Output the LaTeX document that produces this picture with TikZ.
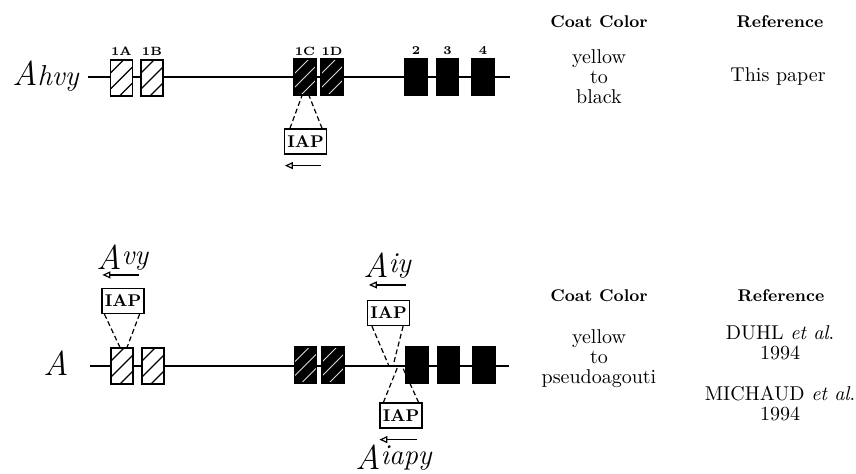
\documentclass[tikz,border=0pt]{standalone}
\usetikzlibrary{arrows.meta}

\tikzset {
  gene line/.style = {line width=0.7pt},
  exon box/.style = {
    draw,
    line width=0.6pt,
    minimum width=11pt,
    minimum height=18pt,
    inner sep=0pt
  },
  light exon/.style = {
    exon box,
    fill=white,
    path picture={
      \foreach \k in {-24,-16,...,24}
        \draw[line width=0.6pt, black]
          ([xshift=\k pt-14pt, yshift=-14pt]path picture bounding box.center) -- ++(28pt,28pt);
    }
  },
  dark exon/.style = {
    exon box,
    fill=black,
    path picture={
      \foreach \k in {-21,-14,...,21}
        \draw[line width=0.45pt, white!85!black]
          ([xshift=\k pt-14pt, yshift=-14pt]path picture bounding box.center) -- ++(28pt,28pt);
    }
  },
  coding exon/.style = {exon box, fill=black},
  exon label/.style = {font=\fontsize{6}{6}\selectfont\bfseries, inner sep=0pt},
  iap box/.style = {
    draw,
    line width=0.6pt,
    minimum width=21pt,
    minimum height=12.5pt,
    inner sep=0pt,
    font=\fontsize{8.5}{9}\selectfont\bfseries
  },
  insert line/.style = {dashed, dash pattern=on 2.5pt off 1.5pt, line width=0.6pt},
  orient arrow/.style = {line width=0.6pt, -{Triangle[open, length=4pt, width=3.5pt]}},
  allele/.style = {font=\LARGE\itshape, inner sep=0pt, anchor=base west},
  col head/.style = {font=\fontsize{8.5}{10}\selectfont\bfseries},
  col text/.style = {font=\fontsize{10}{10}\selectfont, align=center}
}

\begin{document}
\begin{tikzpicture}[x=0.5pt, y=-0.5pt]

\useasboundingbox (0,0) rectangle (856,473);

% --- A^hvy allele ---
\coordinate (hvyL) at (88,77);
\coordinate (hvyR) at (510,77);
\draw[gene line] (hvyL) -- (hvyR);
\node[allele] (lblHvy) at (12,85) {A{\Large hvy}};

\node[light exon]  (hvy1A) at (121.5,78) {};
\node[light exon]  (hvy1B) at (152,78) {};
\node[dark exon]   (hvy1C) at (305,77) {};
\node[dark exon]   (hvy1D) at (332,77) {};
\node[coding exon] (hvy2)  at (416,77) {};
\node[coding exon] (hvy3)  at (447.5,77) {};
\node[coding exon] (hvy4)  at (483,77) {};

% exon numbers
\node[exon label] (num1A) at (121.5,51) {1A};
\node[exon label] (num1B) at (152,51) {1B};
\node[exon label] (num1C) at (305,51) {1C};
\node[exon label] (num1D) at (332,51) {1D};
\node[exon label] (num2)  at (416,51) {2};
\node[exon label] (num3)  at (447.5,51) {3};
\node[exon label] (num4)  at (483,51) {4};

% IAP in exon 1C
\node[iap box] (iapHvy) at (305.5,141.5) {IAP};
\draw[insert line] ([xshift=3pt]iapHvy.north west) -- ([xshift=-1.5pt]hvy1C.south);
\draw[insert line] ([xshift=-2.5pt]iapHvy.north east) -- ([xshift=2pt]hvy1C.south);
\draw[orient arrow] ([shift={(-3pt,-5.5pt)}]iapHvy.south east)
  -- ([shift={(0.5pt,-5.5pt)}]iapHvy.south west);


% --- A allele ---
\coordinate (aL) at (90,366);
\coordinate (aR) at (509,366);
\draw[gene line] (aL) -- (aR);
\node[allele] (lblA) at (43,375) {A};

\node[light exon]  (a1A) at (122,366) {};
\node[light exon]  (a1B) at (153,366) {};
\node[dark exon]   (a1C) at (305.5,365) {};
\node[dark exon]   (a1D) at (333,365) {};
\node[coding exon] (a2)  at (417,365) {};
\node[coding exon] (a3)  at (448.5,365) {};
\node[coding exon] (a4)  at (484,365) {};

% A^vy : IAP in exon 1A
\node[iap box] (iapVy) at (123,301) {IAP};
\draw[insert line] ([xshift=1.5pt]iapVy.south west) -- ([xshift=-1pt]a1A.north);
\draw[insert line] ([xshift=-2.5pt]iapVy.south east) -- ([xshift=2.5pt]a1A.north);
\draw[orient arrow] ([shift={(-3pt,6.5pt)}]iapVy.north east)
  -- ([shift={(0.5pt,6.5pt)}]iapVy.north west);
\node[allele] (lblVy) at (96,269) {A{\Large\raisebox{2.5pt}{vy}}};

% A^iy : IAP in intron 1 (sense)
\coordinate (iyTipL) at (389,366);
\coordinate (iyTipR) at (393,366);
\node[iap box] (iapIy) at (388.5,313) {IAP};
\draw[insert line] ([xshift=2.5pt]iapIy.south west) -- (iyTipL);
\draw[insert line] ([xshift=-3.5pt]iapIy.south east) -- (iyTipR);
\draw[orient arrow] ([shift={(-2pt,7.5pt)}]iapIy.north east)
  -- ([shift={(1pt,7.5pt)}]iapIy.north west);
\node[allele] (lblIy) at (363,277) {A{\Large\raisebox{2.5pt}{iy}}};

% A^iapy : IAP in intron 1 (below)
\coordinate (iapyTipL) at (398,366);
\coordinate (iapyTipR) at (402,366);
\node[iap box] (iapIapy) at (401,415.5) {IAP};
\draw[insert line] ([xshift=2pt]iapIapy.north west) -- (iapyTipL);
\draw[insert line] ([xshift=-2pt]iapIapy.north east) -- (iapyTipR);
\draw[orient arrow] ([shift={(-3pt,-5.5pt)}]iapIapy.south east)
  -- ([shift={(0pt,-5.5pt)}]iapIapy.south west);
\node[allele] (lblIapy) at (355,469) {A{\Large\raisebox{2.5pt}{iapy}}};


% --- Coat color and reference columns ---
\node[col head] (colorTop) at (599,22) {Coat Color};
\node[col head] (refTop)   at (780,22) {Reference};
\node[col text] (colorHvy) at (599,77) {yellow\\to\\black};
\node[col text] (refHvy)   at (778,76) {This paper};

\node[col head] (colorBot) at (599,296) {Coat Color};
\node[col head] (refBot)   at (781,296) {Reference};
\node[col text] (colorA)   at (599,359) {yellow\\to\\pseudoagouti};
\node[col text] (refDuhl)  at (780,343) {DUHL \textit{et al}.\\1994};
\node[col text] (refMich)  at (780,404) {MICHAUD \textit{et al}.\\1994};

\end{tikzpicture}
\end{document}
